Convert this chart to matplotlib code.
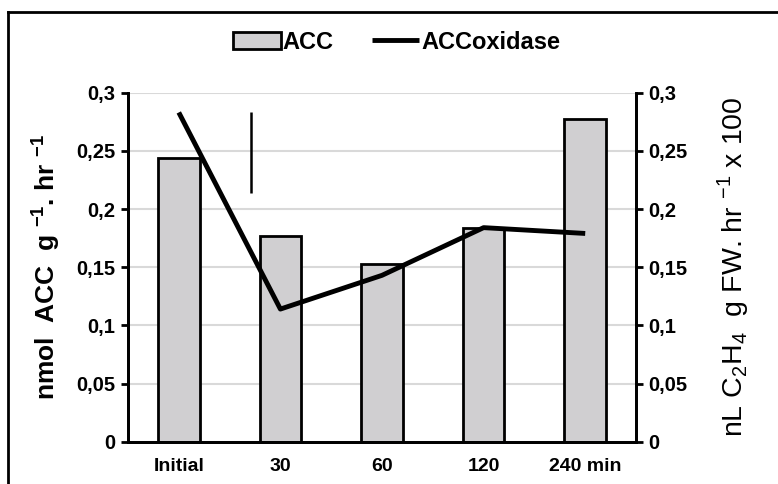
import matplotlib.pyplot as plt
from matplotlib.lines import Line2D
from matplotlib.ticker import FixedLocator, FuncFormatter

plt.rcParams['font.family'] = ['Liberation Sans', 'DejaVu Sans']
plt.rcParams['mathtext.fontset'] = 'custom'
plt.rcParams['mathtext.rm'] = 'Liberation Sans'
plt.rcParams['mathtext.bf'] = 'Liberation Sans:bold'

times = ['Initial', '30', '60', '120', '240 min']
acc = [0.244, 0.177, 0.153, 0.184, 0.277]
acc_oxidase = [0.283, 0.114, 0.143, 0.184, 0.179]
# stray error-bar segment between Initial and 30
seg_x = 0.71
seg_y = (0.214, 0.283)
yticks = [0, 0.05, 0.1, 0.15, 0.2, 0.25, 0.3]

fig = plt.figure(figsize=(7.78, 4.84), dpi=100)
ax = fig.add_axes([0.1645, 0.0874, 0.653, 0.7211])
ax2 = ax.twinx()

x = range(len(times))
ax.bar(x, acc, width=0.41, color='#d0cfd1', edgecolor='black', linewidth=2, label='ACC', zorder=2)
ax2.plot(x, acc_oxidase, color='black', lw=3.5, solid_capstyle='butt', label='ACCoxidase', zorder=3)
ax2.vlines(seg_x, seg_y[0], seg_y[1], color='black', lw=1.8)

fmt = FuncFormatter(lambda v, p: ('%g' % v).replace('.', ','))
for a in (ax, ax2):
    a.set_ylim(0, 0.3)
    a.set_xlim(-0.5, 4.5)
    a.yaxis.set_major_locator(FixedLocator(yticks))
    a.yaxis.set_major_formatter(fmt)
    a.spines['top'].set_visible(False)
    for s in ('left', 'right', 'bottom'):
        a.spines[s].set_linewidth(2)
    a.tick_params(axis='y', length=5, width=2, labelsize=14.5, pad=4)
    for lab in a.get_yticklabels():
        lab.set_fontweight('bold')

ax.set_axisbelow(True)
ax.yaxis.grid(True, color='#d9d9d9', lw=1.5)
ax.set_xticks(list(x))
ax.set_xticklabels(times, fontsize=14, fontweight='bold')
ax.tick_params(axis='x', length=0, pad=12)

ax.set_ylabel(r'nmol  ACC  g $^{\mathbf{-1}}$. hr $^{\mathbf{-1}}$', fontsize=19,
              fontweight='bold', labelpad=10)
ax2.set_ylabel(r'nL C$_2$H$_4$  g FW. hr $^{-1}$ x 100', fontsize=20.5,
               rotation=90, labelpad=20)

h1, l1 = ax.get_legend_handles_labels()
h2, l2 = ax2.get_legend_handles_labels()
fig.legend(h1 + h2, l1 + l2, loc='center', bbox_to_anchor=(0.51, 0.913), ncol=2,
           frameon=False, prop={'weight': 'bold', 'size': 17},
           handlelength=2.0, handletextpad=0.1, columnspacing=1.6)

fig.add_artist(Line2D([0.0103, 1.0], [0.975, 0.975], color='black', lw=2))
fig.add_artist(Line2D([0.0103, 0.0103], [0.0, 0.975], color='black', lw=2))

fig.savefig('out.png', dpi=100)
